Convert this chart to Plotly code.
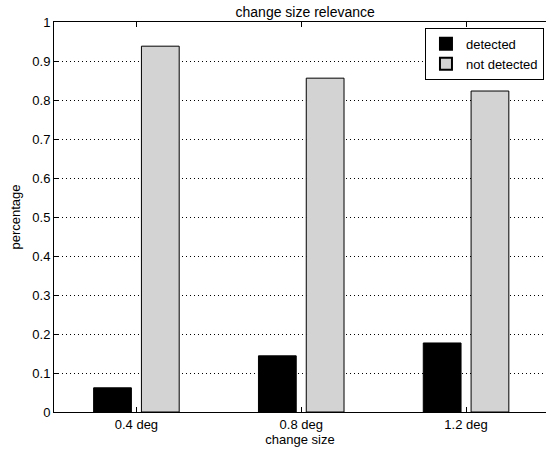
import plotly.graph_objects as go

categories = ["0.4 deg", "0.8 deg", "1.2 deg"]
detected = [0.062, 0.144, 0.177]
not_detected = [0.938, 0.856, 0.823]
y_ticks = [0, 0.1, 0.2, 0.3, 0.4, 0.5, 0.6, 0.7, 0.8, 0.9, 1]
y_tick_labels = ["0", "0.1", "0.2", "0.3", "0.4", "0.5", "0.6", "0.7", "0.8", "0.9", "1"]

FONT = "Liberation Sans, Arial, Helvetica, sans-serif"

fig = go.Figure()
fig.add_trace(go.Bar(x=categories, y=detected, name="detected",
                     marker=dict(color="black", line=dict(color="black", width=1))))
fig.add_trace(go.Bar(x=categories, y=not_detected, name="not detected",
                     marker=dict(color="#d3d3d3", line=dict(color="black", width=1))))

fig.update_layout(
    width=546, height=452,
    margin=dict(l=54, r=0, t=22, b=40),
    paper_bgcolor="white", plot_bgcolor="white",
    barmode="group", bargap=0.42, bargroupgap=0.21,
    font=dict(family=FONT, size=13, color="black"),
    title=dict(text="change size relevance", x=0.559, xanchor="center",
               y=0.974, yanchor="middle", font=dict(size=14)),
    legend=dict(x=0.754, y=0.985, xanchor="left", yanchor="top",
                bgcolor="white", bordercolor="black", borderwidth=1,
                font=dict(size=13), tracegroupgap=0, itemwidth=30,
                itemsizing="constant"),
)
fig.update_xaxes(
    range=[-0.5, 2.485], automargin=False,
    showline=True, linecolor="black", linewidth=1, mirror="allticks",
    ticks="inside", ticklen=5, tickcolor="black",
    showgrid=False, zeroline=False,
    title=dict(text="change size", standoff=4, font=dict(size=13)),
)
fig.update_yaxes(
    range=[0, 1], tickvals=y_ticks, ticktext=y_tick_labels, automargin=False,
    showline=True, linecolor="black", linewidth=1,
    ticks="inside", ticklen=5, tickcolor="black",
    showgrid=True, gridcolor="black", gridwidth=1, griddash="1px,3px",
    zeroline=False,
    title=dict(text="percentage", standoff=8, font=dict(size=13)),
)

fig.write_html("out.html", config={"displayModeBar": False},
               post_script="document.body.style.margin='0';")
